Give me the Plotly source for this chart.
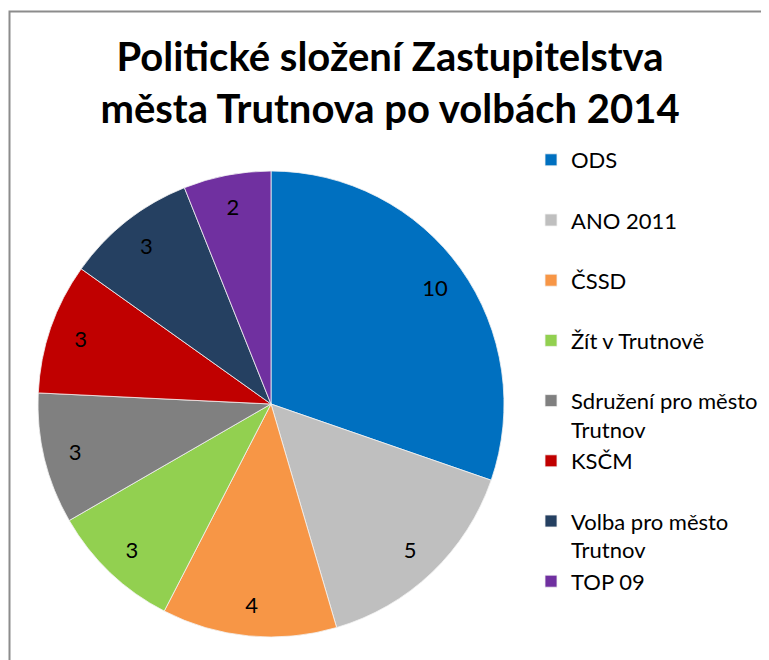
import plotly.graph_objects as go

parties = ["ODS", "ANO 2011", "ČSSD", "Žít v Trutnově", "Sdružení pro město<br>Trutnov",
           "KSČM", "Volba pro město<br>Trutnov", "TOP 09"]
seats = [10, 5, 4, 3, 3, 3, 3, 2]
colors = ["#0070C0", "#BFBFBF", "#F79646", "#92D050", "#808080", "#C00000", "#254061", "#7030A0"]

W, H = 769, 660
OFF = 8  # page body margin in the browser


def px(x):
    return (x - OFF) / W


def py(y):
    return 1 - (y - OFF) / H


legend_labels = [p if "<br>" in p else p + "<br>\u00a0" for p in parties]
dom = dict(x=[px(38), px(504)], y=[py(637), py(171)])

# full pie with colours and legend
pie_main = go.Pie(
    labels=legend_labels,
    values=seats,
    marker=dict(colors=colors, line=dict(color="#f2f2f2", width=0.8)),
    sort=False,
    direction="clockwise",
    rotation=0,
    textinfo="none",
    domain=dom,
    hoverinfo="label+value",
)
# transparent ring carrying the value labels toward the rim
pie_text = go.Pie(
    labels=legend_labels,
    values=seats,
    hole=0.73,
    marker=dict(colors=["rgba(0,0,0,0)"] * len(seats), line=dict(width=0)),
    sort=False,
    direction="clockwise",
    rotation=0,
    textinfo="value",
    textposition="inside",
    insidetextorientation="horizontal",
    textfont=dict(size=22, color="black", family="Lato"),
    domain=dom,
    showlegend=False,
    hoverinfo="skip",
)

fig = go.Figure([pie_main, pie_text])

fig.update_layout(
    width=W, height=H,
    margin=dict(l=0, r=0, t=0, b=0),
    paper_bgcolor="white",
    font=dict(family="Lato", color="black"),
    title=dict(
        text="<b>Politické složení Zastupitelstva<br>města Trutnova po volbách 2014</b>",
        x=px(390), xanchor="center", y=py(71), yanchor="top",
        font=dict(size=40, family="Lato", color="black"),
    ),
    legend=dict(
        x=px(531), xanchor="left", y=py(139), yanchor="top",
        font=dict(size=22, family="Lato", color="black"),
        valign="top", itemwidth=30, bgcolor="rgba(0,0,0,0)",
    ),
    shapes=[dict(type="rect", xref="paper", yref="paper",
                 x0=px(9.5), x1=1.2, y0=-0.2, y1=py(11.5),
                 line=dict(color="#8c8c8c", width=2), fillcolor="rgba(0,0,0,0)")],
)

fig.write_html("out.html")
